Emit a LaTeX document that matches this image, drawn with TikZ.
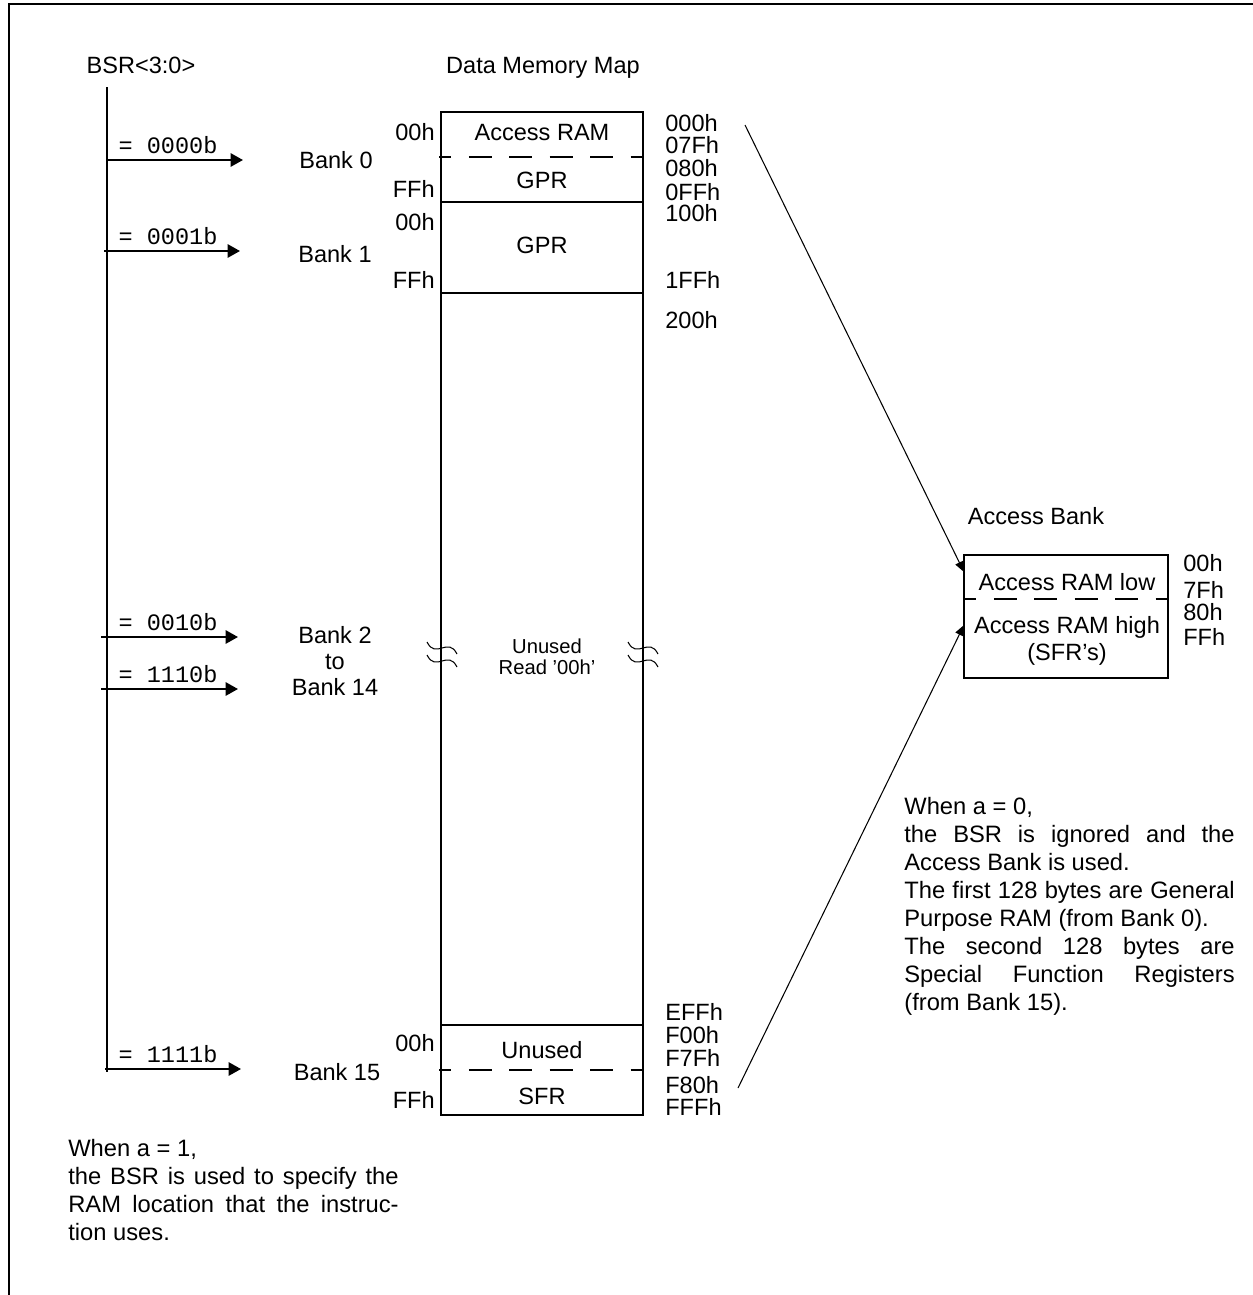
\documentclass[tikz,border=0pt]{standalone}
\usepackage{fontspec}
\setmainfont{Liberation Sans}
\setmonofont{Liberation Mono}
\usetikzlibrary{arrows.meta}

\begin{document}
\begin{tikzpicture}[x=0.02cm,y=-0.02cm,
	every node/.style={inner sep=0pt,font=\fontsize{13.4}{16}\selectfont},
	hexl/.style={anchor=east},
	hexr/.style={anchor=west},
	code/.style={font=\fontsize{13.4}{16}\selectfont\ttfamily},
	boxline/.style={line width=1.5pt},
	divider/.style={line width=1.1pt,dash pattern=on 13pt off 10pt,dash phase=6pt},
	bankarrow/.style={line width=1.2pt,-{Triangle[length=7pt,width=7.5pt]}},
	accarrow/.style={line width=0.6pt,-{Triangle[length=6pt,width=5pt]}},
	wave/.style={line width=0.6pt},
	note/.style={anchor=north west,text width=188pt,align=justify,font=\fontsize{13.5}{15.9}\selectfont}]

	\useasboundingbox (0,0) rectangle (1253,1295);
	\draw[line width=1.2pt] (9,1300) -- (9,4) -- (1260,4);

	\node (bsr) at (141,65) {BSR<3:0>};
	\coordinate (bsrtop) at (107,87);
	\coordinate (bsrbot) at (107,1072);
	\draw[line width=1.2pt] (bsrtop) -- (bsrbot);

	\foreach \y/\v/\sx/\ex in {160/0000/107/243, 251/0001/104/240, 637/0010/101/238, 689/1110/101/238, 1069/1111/105/241}{
		\coordinate (sel\v) at (\sx,\y);
		\coordinate (tip\v) at (\ex,\y);
		\draw[bankarrow] (sel\v) -- (tip\v);
		\node[code] (code\v) at (168,\y-15) {= \v b};
	}

	\node (bank0) at (336,160) {Bank 0};
	\node (bank1) at (335,254) {Bank 1};
	\node[align=center,font=\fontsize{13.4}{14.8}\selectfont] (bank2) at (335,661) {Bank 2\\to\\Bank 14};
	\node (bank15) at (337,1072) {Bank 15};

	\node (dmm) at (543,68) {Data Memory Map};
	\draw[boxline] (441,112) rectangle (643,1115);
	\draw[boxline] (441,202) -- (643,202);
	\draw[boxline] (441,293) -- (643,293);
	\draw[boxline] (441,1025) -- (643,1025);
	\draw[divider] (439,157) -- (643,157);
	\draw[divider] (439,1070) -- (643,1070);

	\node (accram) at (542,133) {Access RAM};
	\node (gpr0) at (542,180) {GPR};
	\node (gpr1) at (542,245) {GPR};
	\node[align=center,font=\fontsize{11.5}{12}\selectfont] (unused) at (547,657) {Unused\\Read '00h'};
	\node (unused15) at (542,1050) {Unused};
	\node (sfr) at (542,1096) {SFR};

	\foreach \y/\t in {132/00h, 189/FFh, 222/00h, 280/FFh, 1043/00h, 1100/FFh}
		\node[hexl] at (435,\y) {\t};
	\foreach \y/\t in {123/000h, 145/07Fh, 168/080h, 192/0FFh, 213/100h, 280/1FFh, 320/200h,
		1012/EFFh, 1035/F00h, 1058/F7Fh, 1085/F80h, 1107/FFFh}
		\node[hexr] at (665,\y) {\t};

	\foreach \wx in {442,643}
		\foreach \wy in {648,661}
			\draw[wave] (\wx-15,\wy-6) .. controls (\wx-6,\wy+12) and (\wx+6,\wy-12) .. (\wx+15,\wy+6);

	\node (abank) at (1036,516) {Access Bank};
	\draw[boxline] (964,555) rectangle (1168,678);
	\draw[divider] (964,599) -- (1168,599);
	\node (arlow) at (1067,582) {Access RAM low};
	\node[align=center,font=\fontsize{13.4}{15.5}\selectfont] (arhigh) at (1067,641) {Access RAM high\\(SFR's)};
	\foreach \y/\t in {563/00h, 590/7Fh, 612/80h, 637/FFh}
		\node[hexr] at (1183,\y) {\t};

	\coordinate (lowsrc) at (745,125);
	\coordinate (lowdst) at (964,572);
	\coordinate (highsrc) at (738,1088);
	\coordinate (highdst) at (964,625);
	\draw[accarrow] (lowsrc) -- (lowdst);
	\draw[accarrow] (highsrc) -- (highdst);

	\node[note] (notea0) at (904,797) {When a = 0,\\the BSR is ignored and the\linebreak Access Bank is used.\\The first 128 bytes are General\linebreak Purpose RAM (from Bank 0).\\The second 128 bytes are\linebreak Special Function Registers\linebreak (from Bank 15).};
	\node[note] (notea1) at (68,1139) {When a = 1,\\the BSR is used to specify the\linebreak RAM location that the instruc-\linebreak tion uses.};
\end{tikzpicture}
\end{document}
